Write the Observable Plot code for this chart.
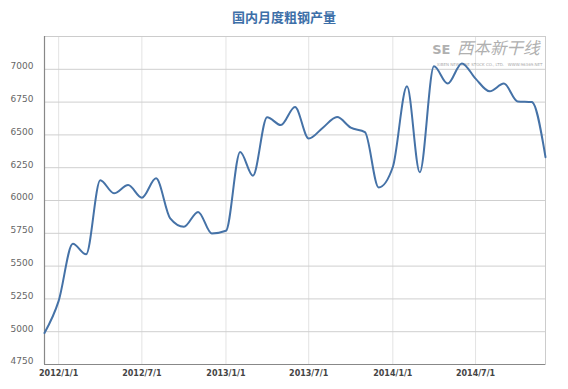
<!DOCTYPE html>
<html>
<head>
<meta charset="utf-8">
<script src="https://cdn.jsdelivr.net/npm/d3@7"></script>
<script src="https://cdn.jsdelivr.net/npm/@observablehq/plot@0.6"></script>
<style>
  html, body { margin: 0; padding: 0; background: #fff; }
  #wrap { width: 568px; height: 389px; position: relative; overflow: hidden; }
  #title { height: 35px; width: 568px; text-align: center; box-sizing: border-box; padding-top: 8px;
           font: bold 13px "Noto Sans CJK SC", sans-serif; color: #3d6fa8; line-height: 18px; }
  #chart svg { display: block; }
</style>
</head>
<body>
<div id="wrap">
  <div id="title">国内月度粗钢产量</div>
  <div id="chart"></div>
</div>
<script>
// Monthly crude steel output (10k tonnes)
const months = [
  "2011-12","2012-01","2012-02","2012-03","2012-04","2012-05","2012-06","2012-07","2012-08","2012-09","2012-10","2012-11","2012-12",
  "2013-01","2013-02","2013-03","2013-04","2013-05","2013-06","2013-07","2013-08","2013-09","2013-10","2013-11","2013-12",
  "2014-01","2014-02","2014-03","2014-04","2014-05","2014-06","2014-07","2014-08","2014-09","2014-10","2014-11","2014-12"
];
const output = [
  4990, 5235, 5670, 5590, 6154, 6055, 6118, 6021, 6169, 5864, 5800, 5913, 5749,
  5769, 6370, 6189, 6635, 6575, 6712, 6472, 6555, 6636, 6555, 6521, 6099,
  6255, 6870, 6215, 7023, 6891, 7045, 6929, 6832, 6891, 6755, 6750, 6330
];
const xTickLabels = ["2012/1/1","2012/7/1","2013/1/1","2013/7/1","2014/1/1","2014/7/1"];
const yTicks = [4750, 5000, 5250, 5500, 5750, 6000, 6250, 6500, 6750, 7000];
const yDomain = [4750, 7250];
const watermark = ["西本新干线"];
const watermarkLogo = ["SE"];
const watermarkSub = ["XIBEN NEW LINE STOCK CO., LTD.   WWW.96369.NET"];

const parseLabel = s => { const [y, m, d] = s.split("/").map(Number); return new Date(Date.UTC(y, m - 1, d)); };
const parseMonth = s => { const [y, m] = s.split("-").map(Number); return new Date(Date.UTC(y, m - 1, 1)); };
const data = months.map((m, i) => ({date: parseMonth(m), value: output[i]}));
const xTicks = xTickLabels.map(parseLabel);
const fmt = d => `${d.getUTCFullYear()}/${d.getUTCMonth() + 1}/${d.getUTCDate()}`;
const xDomain = [data[0].date, data[data.length - 1].date];

const chart = Plot.plot({
  width: 568,
  height: 354,
  marginTop: 1,
  marginLeft: 44,
  marginRight: 23,
  marginBottom: 25,
  style: {fontFamily: "DejaVu Sans, sans-serif", background: "#fff", overflow: "visible"},
  x: {type: "utc", domain: xDomain, label: null},
  y: {domain: yDomain, label: null},
  marks: [
    Plot.gridX(xTicks, {stroke: "#e3e3e3", strokeOpacity: 1}),
    Plot.gridY(yTicks, {stroke: "#cfcfcf", strokeOpacity: 1}),
    Plot.frame({stroke: "#cccccc"}),
    Plot.text(watermark, {frameAnchor: "top-right", dx: -6, dy: 6, fontSize: 16.5, fill: "#b0b0b0", fontStyle: "italic", fontFamily: "Noto Sans CJK SC", textAnchor: "end"}),
    Plot.text(watermarkLogo, {frameAnchor: "top-right", dx: -95, dy: 8, fontSize: 13, fill: "#b0b0b0", fontWeight: "bold", textAnchor: "end"}),
    Plot.text(watermarkSub, {frameAnchor: "top-right", dx: -3, dy: 27, fontSize: 4, fill: "#aaa", textAnchor: "end"}),
    Plot.axisY(yTicks, {tickSize: 0, tickPadding: 11, fontSize: 9, fill: "#666", dy: -3, tickFormat: d => String(d), label: null}),
    Plot.axisX(xTicks, {tickSize: 0, tickPadding: 6, tickFormat: fmt, fontSize: 8, fontWeight: "bold", fill: "#444", label: null}),
    Plot.ruleX([xDomain[0]], {stroke: "#888", strokeWidth: 1.2}),
    Plot.ruleY([yDomain[0]], {stroke: "#888", strokeWidth: 1.2}),
    Plot.lineY(data, {x: "date", y: "value", curve: "monotone-x", stroke: "#4572A7", strokeWidth: 2})
  ]
});
document.getElementById("chart").appendChild(chart);
</script>
</body>
</html>
